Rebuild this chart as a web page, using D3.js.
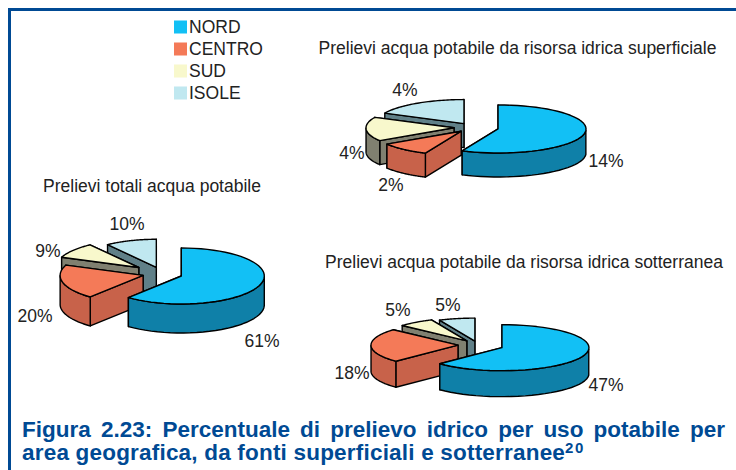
<!DOCTYPE html>
<html><head><meta charset="utf-8">
<style>html,body{margin:0;padding:0;background:#fff}svg{display:block}</style>
<script src="https://cdn.jsdelivr.net/npm/d3@7"></script></head>
<body><svg id="c" width="736" height="470"></svg>
<script>
const regions = ["NORD","CENTRO","SUD","ISOLE"];
const totaliValues = [61,20,9,10];
const superficialeValues = [14,2.3,4,4.4];
const sotterraneaValues = [47,18,5,5];
const totaliTitle = "Prelievi totali acqua potabile";
const superficialeTitle = "Prelievi acqua potabile da risorsa idrica superficiale";
const sotterraneaTitle = "Prelievi acqua potabile da risorsa idrica sotterranea";
const captionLines = ["Figura 2.23: Percentuale di prelievo idrico per uso potabile per","area geografica, da fonti superficiali e sotterranee"];
const captionNote = "20";

const topColors = ["#12c0f5","#f47a58","#f8f8cc","#c0e8f0"];
const sideColors = ["#0f80a8","#c8624a","#808070","#608088"];
const color = d3.scaleOrdinal(regions, topColors);
const side = d3.scaleOrdinal(regions, sideColors);
const svg = d3.select("#c");
const blue = "#004a94";
const ink = "#222";

const pies = [
 {values:totaliValues,title:totaliTitle,tx:152,ty:192,cx:162.5,cy:273.7,rx:83,ry:28,depth:29,explode:[20,20,30,20],
  labels:[[262,347],[35,322],[48,257],[127,230]]},
 {values:superficialeValues,title:superficialeTitle,tx:517.5,ty:54,cx:473,cy:127.5,rx:88,ry:24,depth:24,explode:[25.6,18,19,17],
  labels:[[606,167],[391,191],[352,159],[405,96]]},
 {values:sotterraneaValues,title:sotterraneaTitle,tx:524,ty:268,cx:478,cy:345,rx:87,ry:23,depth:26,explode:[26,20,19,15],
  labels:[[606,391],[352,379],[398,316],[448,311]]}
];

svg.append("path").attr("d","M9.5,470V9.5H736").attr("fill","none").attr("stroke",blue).attr("stroke-width",3);

const lg = svg.append("g");
regions.forEach((r,i)=>{
  const y = 27+i*22;
  lg.append("rect").attr("x",174).attr("y",y-6.5).attr("width",13).attr("height",13).attr("fill",color(r));
  lg.append("text").attr("x",189).attr("y",y+6).attr("font-family","Liberation Sans").attr("font-size",17.5).attr("fill",ink).text(r);
});

const line = d3.line();
pies.forEach(p=>{
  const arcs = d3.pie().sort(null)(p.values);
  const g = svg.append("g");
  const slices = arcs.map((a,i)=>{
    const mid=(a.startAngle+a.endAngle)/2;
    const ox=p.cx+p.explode[i]*Math.sin(mid), oy=p.cy-p.explode[i]*(p.ry/p.rx)*Math.cos(mid);
    return {a,i,ox,oy,name:regions[i]};
  });
  [3,2,1,0].forEach(k=>{
    const s=slices[k];
    const P=(t,r=1,d=0)=>[s.ox+p.rx*r*Math.sin(t), s.oy-p.ry*r*Math.cos(t)+d];
    const n=48, ts=d3.range(n+1).map(j=>s.a.startAngle+(s.a.endAngle-s.a.startAngle)*j/n);
    const wall=(pts)=>g.append("path").attr("d",line(pts)+"Z").attr("fill",side(s.name))
      .attr("stroke","#000").attr("stroke-width",1.4).attr("stroke-linejoin","round");
    const cut=(t)=>wall([P(t,0),P(t),P(t,1,p.depth),P(t,0,p.depth)]);
    const ends=[s.a.startAngle,s.a.endAngle].sort((u,v)=>P(u)[1]-P(v)[1]);
    ends.forEach(cut);
    const front=ts.filter(t=>Math.cos(t)<=0);
    if(front.length>1) wall(front.map(t=>P(t)).concat(front.slice().reverse().map(t=>P(t,1,p.depth))));
    g.append("path").attr("d",line([P(0,0)].concat(ts.map(t=>P(t))))+"Z").attr("fill",color(s.name))
      .attr("stroke","#000").attr("stroke-width",1.4).attr("stroke-linejoin","round");
  });
  g.append("text").attr("x",p.tx).attr("y",p.ty).attr("text-anchor","middle").attr("font-family","Liberation Sans")
    .attr("font-size",17.5).attr("fill",ink).text(p.title);
  p.values.forEach((v,i)=>{
    g.append("text").attr("x",p.labels[i][0]).attr("y",p.labels[i][1]).attr("text-anchor","middle")
      .attr("font-family","Liberation Sans").attr("font-size",17.5).attr("fill",ink).text(Math.round(v)+"%");
  });
});

const cap = svg.append("g").attr("font-family","Liberation Sans").attr("font-weight","bold").attr("font-size",22.5).attr("fill",blue);
const l1=cap.append("text").attr("x",22).attr("y",436.5).text(captionLines[0]);
const gaps=captionLines[0].split(" ").length-1;
l1.attr("word-spacing",(703-l1.node().getComputedTextLength())/gaps);
const l2=cap.append("text").attr("x",22).attr("y",459.5).attr("letter-spacing",0.2).text(captionLines[1]);
cap.append("text").attr("x",22+l2.node().getComputedTextLength()).attr("y",452.5).attr("font-size",15).attr("letter-spacing",1.5).text(captionNote);
</script></body></html>
